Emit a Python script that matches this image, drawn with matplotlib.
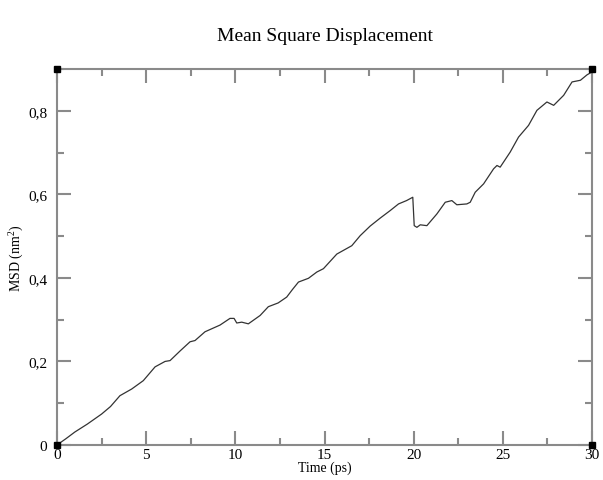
import matplotlib
matplotlib.use("Agg")
import matplotlib.pyplot as plt
from matplotlib.ticker import MultipleLocator, FuncFormatter

plt.rcParams['font.family'] = ['Liberation Serif', 'DejaVu Serif']
plt.rcParams['mathtext.fontset'] = 'custom'
plt.rcParams['mathtext.rm'] = 'Liberation Serif'
plt.rcParams['mathtext.it'] = 'Liberation Serif:italic'

# MSD curve (time in ps, MSD in nm^2)
time_ps = [0.0, 0.5, 1.0, 1.7, 2.5, 3.0, 3.53, 4.19, 4.84, 5.5,
           6.06, 6.34, 6.9, 7.46, 7.74, 8.3, 9.14, 9.7, 9.93, 10.08,
           10.36, 10.73, 11.39, 11.85, 12.4, 12.88, 13.2, 13.54, 14.1, 14.57,
           14.94, 15.69, 16.53, 17.0, 17.56, 18.12, 18.68, 19.15, 19.6, 19.95,
           20.03, 20.18, 20.37, 20.74, 21.3, 21.77, 22.14, 22.42, 22.98, 23.17,
           23.45, 23.92, 24.48, 24.67, 24.85, 25.41, 25.88, 26.44, 26.91, 27.47,
           27.85, 28.41, 28.88, 29.35, 29.72, 30.0]
msd = [0.0, 0.015, 0.031, 0.050, 0.074, 0.092, 0.118, 0.134, 0.154, 0.187,
       0.200, 0.202, 0.225, 0.247, 0.250, 0.271, 0.287, 0.303, 0.303, 0.292,
       0.294, 0.290, 0.310, 0.331, 0.340, 0.354, 0.372, 0.390, 0.399, 0.414,
       0.422, 0.457, 0.477, 0.501, 0.524, 0.543, 0.561, 0.577, 0.585, 0.593,
       0.525, 0.521, 0.527, 0.525, 0.553, 0.581, 0.585, 0.575, 0.577, 0.581,
       0.605, 0.625, 0.661, 0.669, 0.665, 0.701, 0.737, 0.765, 0.801, 0.821,
       0.813, 0.837, 0.869, 0.873, 0.886, 0.893]

x_ticks = [0, 5, 10, 15, 20, 25, 30]
y_ticks = [0, 0.2, 0.4, 0.6, 0.8]

fig = plt.figure(figsize=(6.03, 4.81), dpi=100)
ax = fig.add_axes([0.0945, 0.0728, 0.8873, 0.7817])

ax.plot(time_ps, msd, color='#333333', linewidth=0.9)

# corner markers
ax.plot([0, 30, 0, 30], [0, 0, 0.9, 0.9], 's', color='black',
        markersize=5, clip_on=False, zorder=5)

ax.set_xlim(0, 30)
ax.set_ylim(0, 0.9)
ax.set_xticks(x_ticks)
ax.set_yticks(y_ticks)
ax.xaxis.set_minor_locator(MultipleLocator(2.5))
ax.yaxis.set_minor_locator(MultipleLocator(0.1))
ax.yaxis.set_major_formatter(FuncFormatter(
    lambda v, p: '0' if v == 0 else ('%.1f' % v).replace('.', ',')))

for s in ax.spines.values():
    s.set_color('#8a8a8a')
    s.set_linewidth(1.5)
ax.tick_params(which='both', direction='in', top=True, right=True,
               color='#8a8a8a', width=1.5, labelsize=11)
ax.tick_params(which='major', length=10)
ax.tick_params(which='minor', length=5)
ax.tick_params(axis='x', pad=2)
ax.tick_params(axis='y', pad=7)

ax.set_title('Mean Square Displacement', fontsize=14, pad=21)
ax.set_xlabel('Time (ps)', fontsize=10, labelpad=0)
ax.set_ylabel('MSD (nm$^2$)', fontsize=10)
ax.yaxis.set_label_coords(-0.058, 0.5)

fig.savefig('out.png', dpi=100)
